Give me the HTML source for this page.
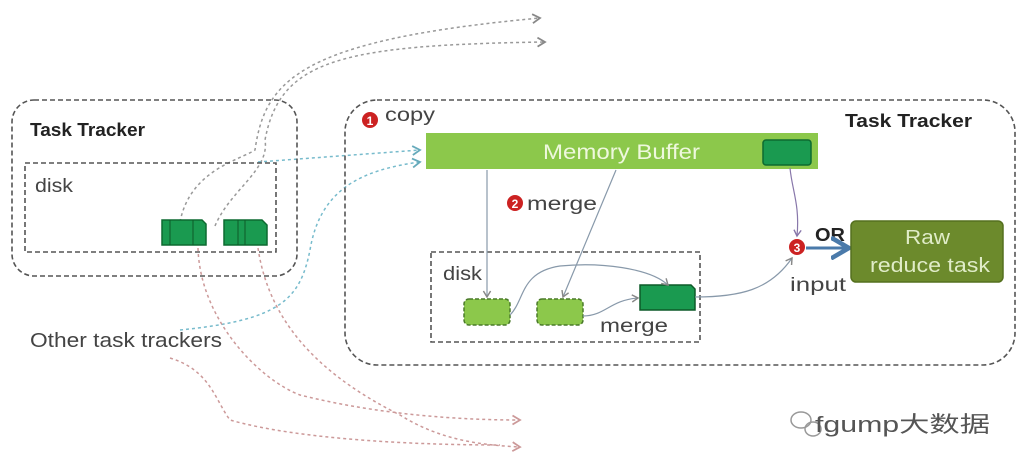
<!DOCTYPE html>
<html><head><meta charset="utf-8"><style>html,body{margin:0;padding:0;background:#fff}svg{display:block}</style></head><body>
<svg width="1024" height="470" viewBox="0 0 1024 470" xmlns="http://www.w3.org/2000/svg" font-family="Liberation Sans, sans-serif">
<defs>
<marker id="ag" markerWidth="8" markerHeight="8" refX="6" refY="4" orient="auto"><path d="M1,1 L6,4 L1,7" fill="none" stroke="#888" stroke-width="1.2"/></marker>
<marker id="ab" markerWidth="8" markerHeight="8" refX="6" refY="4" orient="auto"><path d="M1,1 L6,4 L1,7" fill="none" stroke="#6ab" stroke-width="1.2"/></marker>
<marker id="ar" markerWidth="8" markerHeight="8" refX="6" refY="4" orient="auto"><path d="M1,1 L6,4 L1,7" fill="none" stroke="#c99" stroke-width="1.2"/></marker>
<marker id="ap" markerWidth="8" markerHeight="8" refX="6" refY="4" orient="auto"><path d="M1,1 L6,4 L1,7" fill="none" stroke="#87a" stroke-width="1.2"/></marker>
<marker id="abl" markerWidth="8" markerHeight="8" refX="5" refY="4" orient="auto"><path d="M0,0.5 L6,4 L0,7.5" fill="none" stroke="#4a7aaa" stroke-width="1.5"/></marker>
</defs>
<g fill="none" stroke="#999" stroke-width="1.5" stroke-dasharray="3,3">
<path d="M180,222 C190,170 240,160 255,150 C265,80 300,40 540,18" marker-end="url(#ag)"/>
<path d="M215,226 C230,190 270,170 265,140 C280,60 340,45 545,42" marker-end="url(#ag)"/>
</g>
<g fill="none" stroke="#7bc" stroke-width="1.5" stroke-dasharray="3,3">
<path d="M258,162 L420,150" marker-end="url(#ab)"/>
<path d="M180,330 C280,320 300,300 310,250 C320,190 360,170 420,162" marker-end="url(#ab)"/>
</g>
<g fill="none" stroke="#c99" stroke-width="1.5" stroke-dasharray="3,3">
<path d="M198,248 C200,320 260,380 300,395 C380,415 460,420 520,420" marker-end="url(#ar)"/>
<path d="M258,248 C270,330 330,380 400,415 C440,440 480,445 520,447" marker-end="url(#ar)"/>
<path d="M170,358 C210,370 215,400 230,420 C300,440 420,445 500,445"/>
</g>
<rect x="12" y="100" width="285" height="176" rx="22" fill="none" stroke="#555" stroke-width="1.6" stroke-dasharray="5,3"/>
<text x="30" y="136" font-size="18" font-weight="bold" fill="#222" textLength="115" lengthAdjust="spacingAndGlyphs">Task Tracker</text>
<rect x="25" y="163" width="251" height="89" fill="none" stroke="#555" stroke-width="1.6" stroke-dasharray="5,3"/>
<text x="35" y="192" font-size="19" fill="#444" textLength="38" lengthAdjust="spacingAndGlyphs">disk</text>
<path d="M162,220 h40 l4,4 v21 h-44 z" fill="#1a9a50" stroke="#0d6a30" stroke-width="1.5"/>
<line x1="170" y1="220" x2="170" y2="245" stroke="#0d5a28"/><line x1="193" y1="220" x2="193" y2="245" stroke="#0d5a28"/>
<path d="M224,220 h38 l5,5 v20 h-43 z" fill="#1a9a50" stroke="#0d6a30" stroke-width="1.5"/>
<line x1="238" y1="220" x2="238" y2="245" stroke="#0d5a28"/><line x1="245" y1="220" x2="245" y2="245" stroke="#0d5a28"/>
<text x="30" y="347" font-size="20" fill="#444" textLength="192" lengthAdjust="spacingAndGlyphs">Other task trackers</text>
<rect x="345" y="100" width="670" height="265" rx="32" fill="none" stroke="#555" stroke-width="1.6" stroke-dasharray="5,3"/>
<text x="845" y="127" font-size="18" font-weight="bold" fill="#222" textLength="127" lengthAdjust="spacingAndGlyphs">Task Tracker</text>
<circle cx="370" cy="120" r="8" fill="#c22"/><text x="370" y="125" font-size="12" fill="#fff" text-anchor="middle" font-weight="bold">1</text>
<text x="385" y="121" font-size="19" fill="#444" textLength="50" lengthAdjust="spacingAndGlyphs">copy</text>
<rect x="426" y="133" width="392" height="36" fill="#8cc84b"/>
<text x="543" y="159" font-size="21" fill="#eef8dd" textLength="157" lengthAdjust="spacingAndGlyphs">Memory Buffer</text>
<rect x="763" y="140" width="48" height="25" rx="3" fill="#1a9a50" stroke="#0d6a30" stroke-width="1.5"/>
<circle cx="515" cy="203" r="8" fill="#c22"/><text x="515" y="208" font-size="12" fill="#fff" text-anchor="middle" font-weight="bold">2</text>
<text x="527" y="210" font-size="19" fill="#444" textLength="70" lengthAdjust="spacingAndGlyphs">merge</text>
<rect x="431" y="252" width="269" height="90" fill="none" stroke="#555" stroke-width="1.6" stroke-dasharray="5,3"/>
<text x="443" y="280" font-size="19" fill="#444" textLength="39" lengthAdjust="spacingAndGlyphs">disk</text>
<rect x="464" y="299" width="46" height="26" rx="5" fill="#8cc84b" stroke="#4a7a2a" stroke-width="1.5" stroke-dasharray="4,2"/>
<rect x="537" y="299" width="46" height="26" rx="5" fill="#8cc84b" stroke="#4a7a2a" stroke-width="1.5" stroke-dasharray="4,2"/>
<path d="M640,285 h51 l4,4 v21 h-55 z" fill="#1a9a50" stroke="#0d5a28" stroke-width="1.5"/>
<text x="600" y="332" font-size="19" fill="#444" textLength="68" lengthAdjust="spacingAndGlyphs">merge</text>
<g fill="none" stroke="#8899aa" stroke-width="1.2">
<line x1="487" y1="170" x2="487" y2="297" marker-end="url(#ag)"/>
<line x1="616" y1="170" x2="563" y2="297" marker-end="url(#ag)"/>
<path d="M510,315 C525,300 520,272 560,266 C600,262 650,268 668,285" marker-end="url(#ag)"/>
<path d="M583,316 C605,316 610,300 638,298" marker-end="url(#ag)"/>
<path d="M695,297 C740,297 770,290 792,258" marker-end="url(#ag)"/>
</g>
<path d="M790,168 C792,190 800,205 797,236" fill="none" stroke="#87a" stroke-width="1.2" marker-end="url(#ap)"/>
<circle cx="797" cy="247" r="8" fill="#c22"/><text x="797" y="252" font-size="12" fill="#fff" text-anchor="middle" font-weight="bold">3</text>
<text x="815" y="241" font-size="18" font-weight="bold" fill="#222" textLength="30" lengthAdjust="spacingAndGlyphs">OR</text>
<text x="790" y="291" font-size="19" fill="#444" textLength="56" lengthAdjust="spacingAndGlyphs">input</text>
<line x1="806" y1="248" x2="846" y2="248" stroke="#4a7aaa" stroke-width="3" marker-end="url(#abl)"/>
<rect x="851" y="221" width="152" height="61" rx="5" fill="#6c8a2c" stroke="#55701e" stroke-width="1.5"/>
<text x="905" y="244" font-size="20" fill="#e0ecc8" textLength="45" lengthAdjust="spacingAndGlyphs">Raw</text>
<text x="870" y="272" font-size="20" fill="#e0ecc8" textLength="120" lengthAdjust="spacingAndGlyphs">reduce task</text>
<g fill="none" stroke="#999" stroke-width="1.5"><ellipse cx="801" cy="420" rx="10" ry="8"/><ellipse cx="813" cy="429" rx="8" ry="7"/></g>
<text x="815" y="432" font-size="22" fill="#555" font-family="Liberation Sans, Noto Sans CJK SC, sans-serif" textLength="175" lengthAdjust="spacingAndGlyphs">fgump大数据</text>
</svg>
</body></html>
